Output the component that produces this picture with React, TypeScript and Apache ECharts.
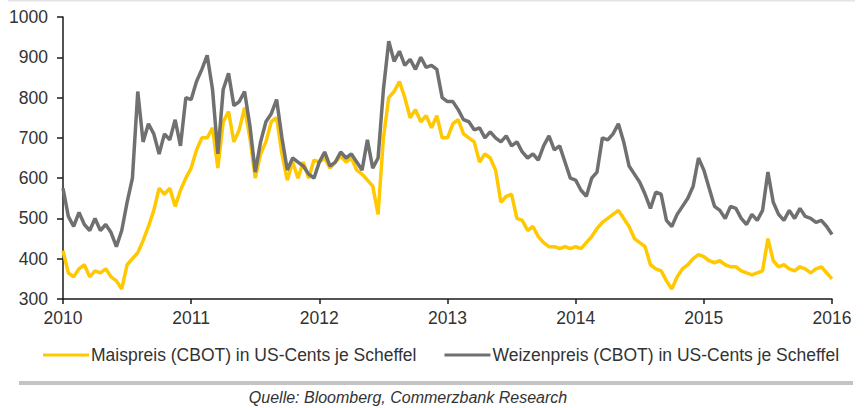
import React, { useEffect, useRef } from "react";
import * as echarts from "echarts";

// Semi-monthly observations (1st and 15th of each month), US cents per bushel
const years = [2010, 2011, 2012, 2013, 2014, 2015];

const cornByYear: number[][] = [
  [420, 365, 355, 375, 385, 355, 370, 365, 375, 355, 345, 325, 385, 400, 415, 445, 480, 520, 575, 560, 575, 530, 570, 600],
  [625, 670, 700, 700, 725, 625, 740, 765, 690, 720, 775, 700, 600, 660, 690, 740, 750, 660, 595, 640, 600, 640, 600, 645],
  [640, 650, 625, 640, 655, 640, 650, 620, 610, 595, 580, 510, 700, 800, 815, 840, 800, 750, 770, 740, 755, 725, 755, 700],
  [700, 735, 745, 710, 700, 690, 640, 660, 650, 620, 540, 555, 560, 500, 495, 470, 480, 455, 440, 430, 430, 425, 430, 425],
  [430, 425, 440, 455, 475, 490, 500, 510, 520, 500, 480, 450, 440, 430, 385, 375, 370, 345, 325, 355, 375, 385, 400, 410],
  [405, 395, 390, 395, 385, 380, 380, 370, 365, 360, 365, 370, 450, 395, 380, 385, 375, 370, 380, 375, 365, 375, 380, 365],
];
const cornEnd = 350;

const wheatByYear: number[][] = [
  [575, 505, 480, 515, 485, 470, 500, 470, 485, 465, 430, 470, 540, 600, 815, 690, 735, 710, 660, 710, 695, 745, 680, 800],
  [795, 840, 870, 905, 820, 660, 820, 860, 780, 790, 815, 730, 615, 690, 740, 760, 795, 700, 620, 650, 640, 630, 610, 600],
  [640, 665, 630, 640, 665, 650, 660, 640, 620, 695, 625, 650, 820, 940, 890, 915, 880, 895, 870, 900, 875, 880, 870, 800],
  [790, 790, 770, 745, 740, 720, 725, 700, 715, 700, 690, 705, 680, 690, 665, 650, 660, 645, 680, 705, 670, 680, 640, 600],
  [595, 570, 555, 600, 615, 700, 695, 710, 735, 690, 630, 610, 590, 560, 525, 565, 560, 495, 480, 510, 530, 550, 580, 650],
  [620, 575, 530, 520, 500, 530, 525, 500, 485, 510, 495, 520, 615, 540, 510, 495, 520, 500, 525, 505, 500, 490, 495, 480],
];
const wheatEnd = 460;

const yTicks = [300, 1000, 100]; // min, max, step
const seriesNames = [
  "Maispreis (CBOT) in US-Cents je Scheffel",
  "Weizenpreis (CBOT) in US-Cents je Scheffel",
];
const sourceText = "Quelle: Bloomberg, Commerzbank Research";

function toPoints(byYear: number[][], endValue: number): [number, number][] {
  const pts: [number, number][] = [];
  byYear.forEach((vals, yi) => {
    vals.forEach((v, i) => pts.push([years[yi] + i / vals.length, v]));
  });
  pts.push([years[years.length - 1] + 1, endValue]);
  return pts;
}

const FONT = "'Liberation Sans', Arial, Helvetica, sans-serif";

export default function App() {
  const ref = useRef<HTMLDivElement>(null);
  useEffect(() => {
    if (!ref.current) return;
    const chart = echarts.init(ref.current, undefined, { renderer: "svg" });
    chart.setOption({
      animation: false,
      backgroundColor: "#ffffff",
      textStyle: { fontFamily: FONT },
      grid: { left: 63, right: 34, top: 17, bottom: 109, containLabel: false },
      xAxis: {
        type: "value",
        min: 2010,
        max: 2016,
        interval: 1,
        axisLine: { show: true, lineStyle: { color: "#1a1a1a", width: 1.5 } },
        axisTick: { show: true, inside: false, length: 5, lineStyle: { color: "#1a1a1a", width: 1.5 } },
        axisLabel: {
          color: "#333",
          fontSize: 17.5,
          fontFamily: FONT,
          margin: 10,
          formatter: (v: number) => String(Math.round(v)),
        },
        splitLine: { show: false },
      },
      yAxis: {
        type: "value",
        min: yTicks[0],
        max: yTicks[1],
        interval: yTicks[2],
        axisLine: { show: true, lineStyle: { color: "#1a1a1a", width: 1.5 } },
        axisTick: { show: true, inside: false, length: 6, lineStyle: { color: "#1a1a1a", width: 1.5 } },
        axisLabel: {
          color: "#333",
          fontSize: 17.5,
          fontFamily: FONT,
          margin: 15,
          formatter: (v: number) => String(Math.round(v)),
        },
        splitLine: { show: false },
      },
      legend: {
        left: 38,
        top: 341,
        icon: "rect",
        itemWidth: 46,
        itemHeight: 3,
        itemGap: 28,
        textStyle: { color: "#333", fontSize: 17.5, fontFamily: FONT, padding: [0, 0, 0, -3] },
        data: seriesNames,
      },
      series: [
        {
          name: seriesNames[0],
          type: "line",
          data: toPoints(cornByYear, cornEnd),
          showSymbol: false,
          symbol: "none",
          lineStyle: { color: "#FFC800", width: 3.5 },
          itemStyle: { color: "#FFC800" },
        },
        {
          name: seriesNames[1],
          type: "line",
          data: toPoints(wheatByYear, wheatEnd),
          showSymbol: false,
          symbol: "none",
          lineStyle: { color: "#707070", width: 3.5 },
          itemStyle: { color: "#707070" },
        },
      ],
      graphic: [
        { type: "rect", left: 8, top: 0, shape: { width: 847, height: 1.5 }, style: { fill: "#e4e4e4" } },
        { type: "rect", left: 19, top: 381, shape: { width: 834, height: 4 }, style: { fill: "#c4c4c4" } },
        {
          type: "text",
          x: 408,
          y: 397,
          style: {
            text: sourceText,
            fill: "#333",
            font: `italic 16px ${FONT}`,
            align: "center",
            verticalAlign: "middle",
          },
        },
      ],
    });
    return () => chart.dispose();
  }, []);
  return (
    <div
      ref={ref}
      style={{ position: "fixed", left: 0, top: 0, width: 866, height: 408, background: "#fff" }}
    />
  );
}
